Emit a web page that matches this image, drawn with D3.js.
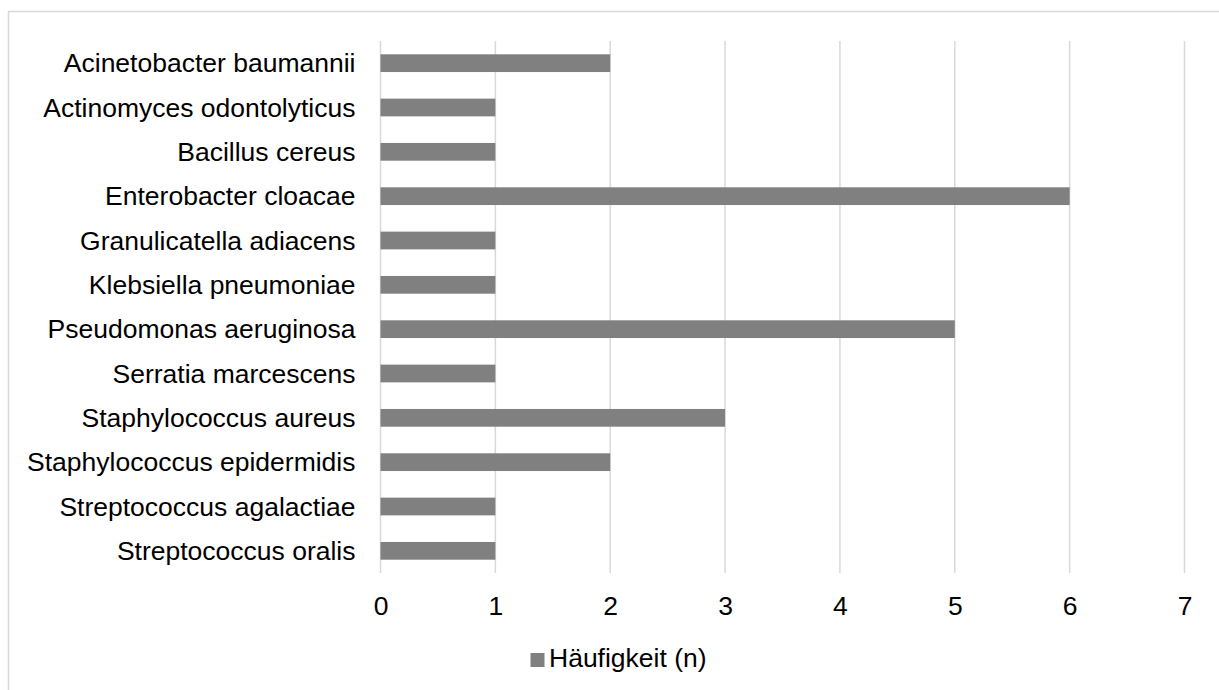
<!DOCTYPE html>
<html>
<head>
<meta charset="utf-8">
<script src="https://cdn.jsdelivr.net/npm/d3@7"></script>
<style>
  html, body { margin: 0; padding: 0; background: #fff; }
  svg { display: block; }
  text { font-family: "Liberation Sans", Arial, sans-serif; fill: #000; }
</style>
</head>
<body>
<svg id="chart" width="1219" height="690"></svg>
<script>
// Isolated organisms and their counts
const species = [
  "Acinetobacter baumannii",
  "Actinomyces odontolyticus",
  "Bacillus cereus",
  "Enterobacter cloacae",
  "Granulicatella adiacens",
  "Klebsiella pneumoniae",
  "Pseudomonas aeruginosa",
  "Serratia marcescens",
  "Staphylococcus aureus",
  "Staphylococcus epidermidis",
  "Streptococcus agalactiae",
  "Streptococcus oralis"
];
const counts = [2, 1, 1, 6, 1, 1, 5, 1, 3, 2, 1, 1];
const xTicks = [0, 1, 2, 3, 4, 5, 6, 7];
const seriesName = "Häufigkeit (n)";

const svg = d3.select("#chart");
const fontSize = 26.5;
const barColor = "#808080";
const gridColor = "#d9d9d9";

// Outer chart frame
svg.append("rect")
  .attr("x", 8.5).attr("y", 11.5)
  .attr("width", 1240).attr("height", 700)
  .attr("fill", "none")
  .attr("stroke", gridColor)
  .attr("stroke-width", 1.5);

const plot = { left: 380.5, right: 1184.5, top: 41, bottom: 573 };

const x = d3.scaleLinear().domain([0, 7]).range([plot.left, plot.right]);
const y = d3.scaleBand().domain(species).range([plot.top, plot.bottom])
  .paddingInner(0.6).paddingOuter(0.3);

// Vertical gridlines
svg.append("g").selectAll("line").data(xTicks).join("line")
  .attr("x1", d => x(d)).attr("x2", d => x(d))
  .attr("y1", plot.top).attr("y2", plot.bottom)
  .attr("stroke", gridColor).attr("stroke-width", 1.5);

// Bars
svg.append("g").selectAll("rect").data(species).join("rect")
  .attr("x", x(0))
  .attr("y", d => y(d))
  .attr("width", (d, i) => x(counts[i]) - x(0))
  .attr("height", y.bandwidth())
  .attr("fill", barColor);

// Category labels
svg.append("g").selectAll("text").data(species).join("text")
  .attr("x", plot.left - 25)
  .attr("y", d => y(d) + y.bandwidth() / 2)
  .attr("dy", "0.35em")
  .attr("text-anchor", "end")
  .attr("font-size", fontSize)
  .text(d => d);

// Value axis tick labels
const xAxis = d3.axisBottom(x).tickValues(xTicks).tickSize(0).tickPadding(0)
  .tickFormat(d3.format("d"));
const gx = svg.append("g")
  .attr("transform", `translate(0, 596)`)
  .call(xAxis);
gx.select(".domain").remove();
gx.selectAll("text")
  .attr("font-size", fontSize)
  .attr("font-family", "Liberation Sans, Arial, sans-serif")
  .attr("fill", "#000");

// Legend
const legend = svg.append("g");
legend.append("rect")
  .attr("x", 530.5).attr("y", 653)
  .attr("width", 14).attr("height", 14)
  .attr("fill", barColor);
legend.append("text")
  .attr("x", 549).attr("y", 667)
  .attr("font-size", fontSize)
  .text(seriesName);
</script>
</body>
</html>
